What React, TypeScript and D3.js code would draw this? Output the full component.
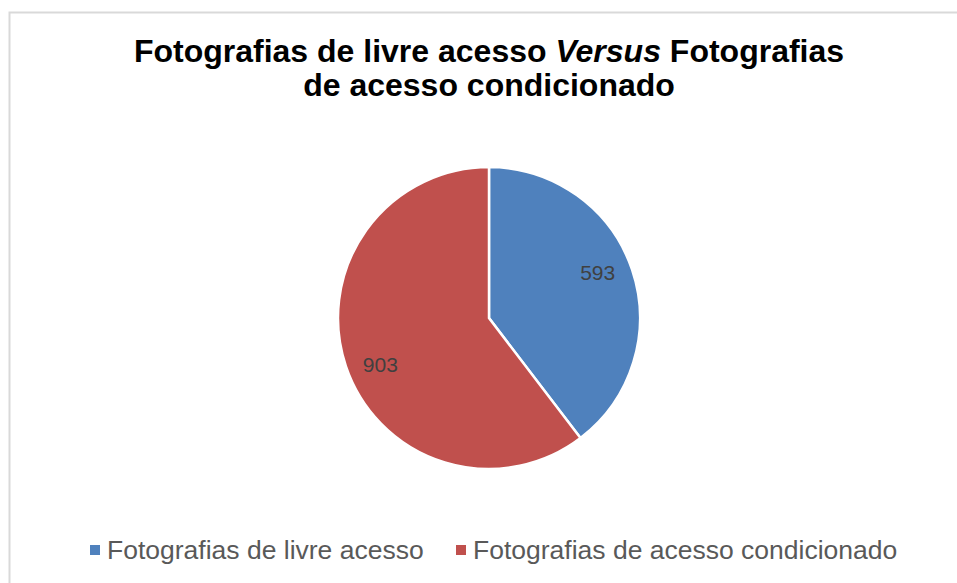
import React, { useEffect, useRef } from "react";
import * as d3 from "d3";

const categories = ["Fotografias de livre acesso", "Fotografias de acesso condicionado"];
const values = [593, 903];
const colors = ["#4F81BD", "#C0504D"];

export default function App() {
  const svgRef = useRef<SVGSVGElement>(null);

  useEffect(() => {
    if (!svgRef.current) return;
    const svg = d3.select(svgRef.current);
    svg.selectAll("*").remove();

    const width = 957;
    const cx = 489;
    const cy = 318;
    const radius = 151;

    // chart frame (only top and left edges visible)
    svg.append("rect")
      .attr("x", 9.5)
      .attr("y", 12.5)
      .attr("width", width + 20)
      .attr("height", 700)
      .attr("fill", "#fff")
      .attr("stroke", "#d9d9d9")
      .attr("stroke-width", 2);

    // title
    const title = svg.append("text")
      .attr("text-anchor", "middle")
      .attr("font-family", "Liberation Sans, Arial, sans-serif")
      .attr("font-weight", "bold")
      .attr("font-size", 32)
      .attr("fill", "#000");
    const t1 = title.append("tspan").attr("x", cx).attr("y", 62);
    t1.append("tspan").text("Fotografias de livre acesso ");
    t1.append("tspan").attr("font-style", "italic").text("Versus");
    t1.append("tspan").text(" Fotografias");
    title.append("tspan").attr("x", cx).attr("y", 96).text("de acesso condicionado");

    // pie
    const pie = d3.pie<number>().sort(null).value((d) => d);
    const arcs = pie(values);
    const arc = d3.arc<d3.PieArcDatum<number>>().innerRadius(0).outerRadius(radius);

    const g = svg.append("g").attr("transform", `translate(${cx},${cy})`);
    g.selectAll("path")
      .data(arcs)
      .join("path")
      .attr("d", arc)
      .attr("fill", (_, i) => colors[i])
      .attr("stroke", "#fff")
      .attr("stroke-width", 2.5);

    // data labels
    const labelR = 118;
    g.selectAll("text.lbl")
      .data(arcs)
      .join("text")
      .attr("class", "lbl")
      .attr("x", (d) => labelR * Math.sin((d.startAngle + d.endAngle) / 2 - 0.075))
      .attr("y", (d) => -labelR * Math.cos((d.startAngle + d.endAngle) / 2 - 0.075))
      .attr("dy", "0.36em")
      .attr("text-anchor", "middle")
      .attr("font-family", "Liberation Sans, Arial, sans-serif")
      .attr("font-size", 21)
      .attr("fill", "#404040")
      .text((d) => d.data);

    // legend
    const legendX = [90, 456];
    const legend = svg.append("g");
    categories.forEach((c, i) => {
      legend.append("rect")
        .attr("x", legendX[i])
        .attr("y", 545)
        .attr("width", 10)
        .attr("height", 10)
        .attr("fill", colors[i]);
      legend.append("text")
        .attr("x", legendX[i] + 17)
        .attr("y", 559)
        .attr("font-family", "Liberation Sans, Arial, sans-serif")
        .attr("font-size", 26.5)
        .attr("fill", "#595959")
        .text(c);
    });
  }, []);

  return (
    <svg
      ref={svgRef}
      width={957}
      height={583}
      style={{ position: "absolute", left: 0, top: 0, background: "#fff" }}
    />
  );
}
